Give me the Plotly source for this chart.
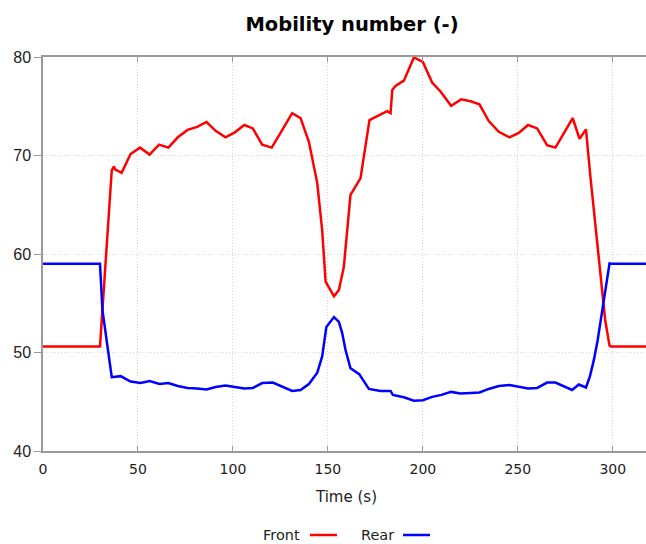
import plotly.graph_objects as go

# ---- data ----
time_front = [0, 30, 36.2, 37.4, 37.9, 41.4, 46.1, 51.1, 56.1, 61.1,
              66, 71, 76.1, 81.2, 86.1, 90.9, 96.1, 101, 106, 110.5,
              115.4, 120.4, 126, 131.2, 135.6, 140, 144.4, 147, 148.8, 153.2,
              155.8, 158.4, 161.9, 164.2, 167.2, 171.9, 176.8, 181.2, 183, 183.9,
              185.6, 190, 195.3, 200, 204.9, 209.3, 214.9, 220.2, 225.1, 229.8,
              234.7, 240, 245.6, 250.5, 255.4, 260.2, 265.4, 269.8, 274.2, 278.9,
              282.5, 285.9, 288, 290, 292, 294, 296, 298.3, 299, 318]
front = [50.6, 50.6, 68.5, 68.9, 68.6, 68.25, 70.15, 70.8, 70.1, 71.1,
         70.8, 71.85, 72.6, 72.9, 73.4, 72.5, 71.85, 72.35, 73.1, 72.75,
         71.1, 70.8, 72.6, 74.3, 73.8, 71.4, 67.2, 62.4, 57.2, 55.7,
         56.35, 58.7, 66.0, 66.8, 67.7, 73.6, 74.1, 74.5, 74.3, 76.65,
         77.05, 77.6, 79.95, 79.5, 77.4, 76.5, 75.05, 75.7, 75.5, 75.2,
         73.5, 72.4, 71.85, 72.3, 73.1, 72.75, 71.05, 70.8, 72.25, 73.8,
         71.7, 72.65, 68.3, 64.5, 60.6, 56.6, 53.3, 50.7, 50.6, 50.6]

time_rear = [0, 30, 31.3, 36.2, 40.9, 46.1, 51.4, 56.1, 61.4, 66,
             71, 76.1, 81.2, 86.1, 90.9, 96.1, 101, 106, 110.5, 115.4,
             121, 126, 131.2, 135.6, 140, 144.4, 147, 149.2, 150.5, 153.2,
             155.8, 157.5, 159.3, 161.9, 166.5, 171.6, 177.7, 183, 184.2, 190,
             195.3, 200, 204.9, 209.8, 214.9, 219.8, 225.1, 229.8, 234.7, 240,
             245.6, 250.5, 255.4, 260.2, 265.4, 269.8, 274.2, 278.6, 282.1, 285.9,
             288, 290, 292, 294, 296, 298.3, 299, 318]
rear = [59.0, 59.0, 54.3, 47.5, 47.6, 47.05, 46.9, 47.1, 46.8, 46.9,
        46.6, 46.4, 46.35, 46.25, 46.5, 46.65, 46.5, 46.35, 46.4, 46.9,
        46.95, 46.5, 46.1, 46.2, 46.8, 47.95, 49.6, 52.6, 52.95, 53.6,
        53.1, 52.0, 50.25, 48.4, 47.8, 46.3, 46.1, 46.1, 45.7, 45.45,
        45.1, 45.15, 45.5, 45.7, 46.0, 45.85, 45.9, 45.95, 46.3, 46.6,
        46.7, 46.55, 46.35, 46.4, 46.95, 46.95, 46.6, 46.2, 46.75, 46.45,
        47.6, 49.2, 51.2, 53.6, 56.3, 59.05, 59.0, 59.0]

x_ticks = [0, 50, 100, 150, 200, 250, 300]
y_ticks = [40, 50, 60, 70, 80]
series_names = ["Front", "Rear"]
series_colors = ["#ff0000", "#0000ff"]

FONT = "DejaVu Sans"
YFONT = "Liberation Sans"

fig = go.Figure()
fig.add_trace(go.Scatter(x=time_front, y=front, mode="lines", name=series_names[0],
                         line=dict(color=series_colors[0], width=2.5), showlegend=False))
fig.add_trace(go.Scatter(x=time_rear, y=rear, mode="lines", name=series_names[1],
                         line=dict(color=series_colors[1], width=2.5), showlegend=False))

W, H = 646, 544
L, T, B, R = 43, 57, 93, 0
pw = W - L - R
ph = H - T - B

def px_x(px):
    return (px - L) / pw

def px_y(py):
    return (H - B - py) / ph

# custom legend: text then line sample
leg_y = px_y(535)
fig.add_annotation(x=px_x(302), y=leg_y, xref="paper", yref="paper", text="Front",
                   showarrow=False, xanchor="right", yanchor="middle",
                   font=dict(family=FONT, size=14.5, color="#222"))
fig.add_shape(type="line", xref="paper", yref="paper", x0=px_x(310), x1=px_x(337),
              y0=leg_y, y1=leg_y, line=dict(color=series_colors[0], width=2.5))
fig.add_annotation(x=px_x(396), y=leg_y, xref="paper", yref="paper", text="Rear",
                   showarrow=False, xanchor="right", yanchor="middle",
                   font=dict(family=FONT, size=14.5, color="#222"))
fig.add_shape(type="line", xref="paper", yref="paper", x0=px_x(403), x1=px_x(430),
              y0=leg_y, y1=leg_y, line=dict(color=series_colors[1], width=2.5))

# axis title
fig.add_annotation(x=px_x(346), y=px_y(497), xref="paper", yref="paper", text="Time (s)",
                   showarrow=False, xanchor="center", yanchor="middle",
                   font=dict(family=FONT, size=15, color="#222"))

fig.update_layout(
    width=W, height=H,
    margin=dict(l=L, r=R, t=T, b=B, autoexpand=False),
    paper_bgcolor="white", plot_bgcolor="white",
    font=dict(family=FONT, size=15, color="#222"),
    title=dict(text="<b>Mobility number (-)</b>", x=352 / W, xref="container",
               xanchor="center", y=1 - 24 / H, yref="container", yanchor="middle",
               font=dict(family=FONT, size=19.5, color="#000")),
    xaxis=dict(range=[0, 317.5], tickvals=x_ticks, showgrid=True, gridcolor="#d6d6d6",
               griddash="1px,2px", gridwidth=1, showline=True, linecolor="#999", linewidth=1.5,
               mirror="ticks", ticks="inside", ticklen=5, tickcolor="#999", zeroline=False,
               automargin=False, ticklabelstandoff=4,
               tickfont=dict(family=FONT, size=14, color="#222")),
    yaxis=dict(range=[40, 80], tickvals=y_ticks, showgrid=True, gridcolor="#d6d6d6",
               griddash="1px,2px", gridwidth=1, showline=True, linecolor="#999", linewidth=1.5,
               mirror="ticks", ticks="outside", ticklen=7, tickcolor="#999", zeroline=False,
               automargin=False,
               tickfont=dict(family=YFONT, size=16, color="#222")),
)

fig.write_html("out.html", config={"displayModeBar": False},
               post_script="document.body.style.margin='0';document.body.style.overflow='hidden';")
